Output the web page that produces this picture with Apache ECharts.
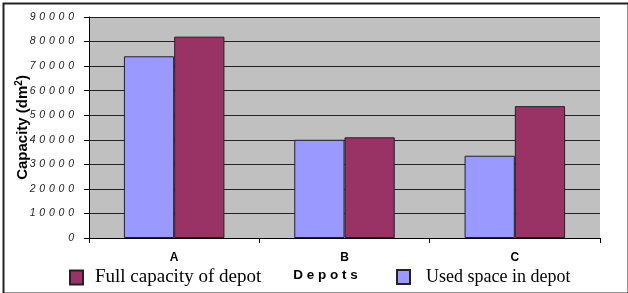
<!DOCTYPE html>
<html><head><meta charset="utf-8">
<script src="https://cdn.jsdelivr.net/npm/echarts@6/dist/echarts.min.js"></script>
<style>html,body{margin:0;padding:0;background:#fff}#c{width:628px;height:293px}</style>
</head><body><div id="c"></div>
<script>
const categories = ['A', 'B', 'C'];
const usedSpace = [74000, 40000, 33500];
const fullCapacity = [82000, 41000, 53700];
const yTicks = [0, 10000, 20000, 30000, 40000, 50000, 60000, 70000, 80000, 90000];

const chart = echarts.init(document.getElementById('c'), null, {renderer: 'canvas'});
chart.setOption({
  animation: false,
  backgroundColor: '#fff',
  graphic: [{type: 'rect', left: 1, top: 1, shape: {width: 625, height: 290}, style: {fill: 'none', stroke: '#222', lineWidth: 2}, z: 100}],
  grid: {left: 89, right: 28, top: 17, bottom: 55, show: true, backgroundColor: '#c0c0c0', borderWidth: 0,
         containLabel: false, outerBoundsMode: 'none'},
  xAxis: {
    type: 'category', data: categories,
    name: 'D e p o t s', nameLocation: 'middle', nameGap: 30, nameMoveOverlap: false,
    nameTextStyle: {fontFamily: 'Arial, Liberation Sans', fontWeight: 'bold', fontSize: 13.5, color: '#000', padding: [0, 38, 0, 0]},
    axisLine: {lineStyle: {color: '#000', width: 1}},
    axisTick: {show: true, length: 5, lineStyle: {color: '#000'}},
    axisLabel: {fontFamily: 'Arial, Liberation Sans', fontWeight: 'bold', fontSize: 12, color: '#000', margin: 14}
  },
  yAxis: {
    type: 'value', min: 0, max: 90000, interval: 10000,
    name: 'Capacity (dm{s|2})', nameLocation: 'middle', nameGap: 57, nameRotate: 90, nameMoveOverlap: false,
    nameTextStyle: {fontFamily: 'Arial, Liberation Sans', fontWeight: 'bold', fontSize: 15, color: '#000',
      rich: {s: {fontFamily: 'Arial, Liberation Sans', fontWeight: 'bold', fontSize: 10, color: '#000', verticalAlign: 'top', padding: [0, 0, 8, 0]}}},
    axisLine: {show: true, lineStyle: {color: '#000', width: 1}},
    axisTick: {show: true, length: 5, lineStyle: {color: '#000'}},
    splitLine: {show: true, lineStyle: {color: '#222', width: 1}},
    axisLabel: {
      fontFamily: 'Arial, Liberation Sans', fontStyle: 'italic', fontSize: 10.5, color: '#222', margin: 15,
      formatter: v => String(v).split('').join(' \u200A')
    }
  },
  legend: [
    {data: ['Full capacity of depot'], left: 64, top: 263, icon: 'rect', itemWidth: 13, itemHeight: 14,
     textStyle: {fontFamily: 'Times New Roman, Liberation Serif', fontSize: 19, color: '#000', padding: [0,0,0,7]}},
    {data: ['Used space in depot'], left: 391, top: 263, icon: 'rect', itemWidth: 13, itemHeight: 14,
     textStyle: {fontFamily: 'Times New Roman, Liberation Serif', fontSize: 18, color: '#000', padding: [0,0,0,11]}}
  ],
  series: [
    {name: 'Used space in depot', type: 'bar', data: usedSpace, barGap: '0%', barCategoryGap: '41%',
     itemStyle: {color: '#9999ff', borderColor: '#222', borderWidth: 1}},
    {name: 'Full capacity of depot', type: 'bar', data: fullCapacity, barGap: '0%', barCategoryGap: '41%',
     itemStyle: {color: '#993366', borderColor: '#222', borderWidth: 1}}
  ]
});
</script></body></html>
